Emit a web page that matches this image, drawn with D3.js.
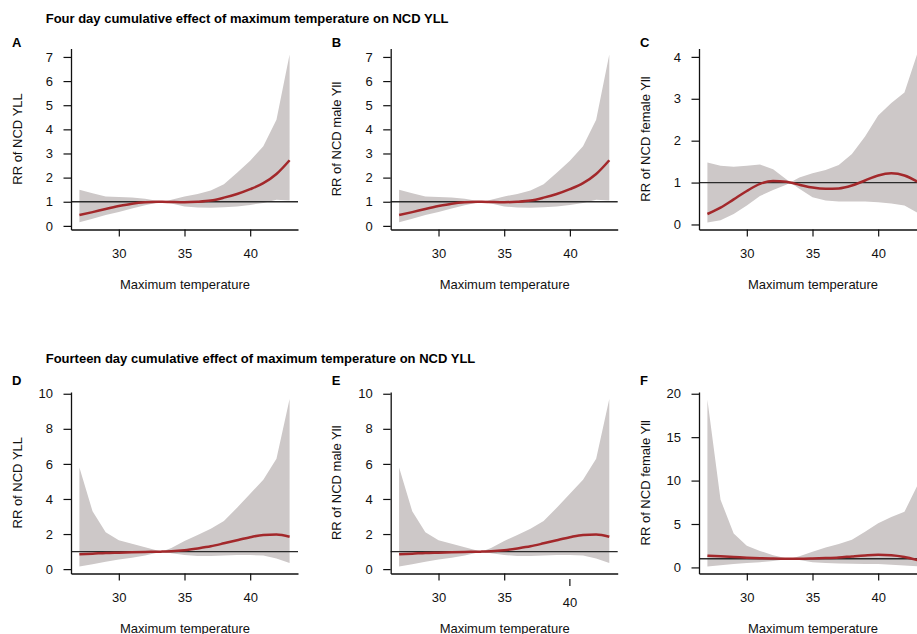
<!DOCTYPE html>
<html>
<head>
<meta charset="utf-8">
<script src="https://cdn.jsdelivr.net/npm/d3@7"></script>
<style>
  body { margin: 0; background: #fff; }
  svg { display: block; font-family: "Liberation Sans", Arial, Helvetica, sans-serif; }
</style>
</head>
<body>
<div id="chart"></div>
<script>
// Temperature grid (centred at 33.3, where RR = 1)
const temps = [27, 28, 29, 30, 31, 32, 33, 33.3, 34, 35, 36, 37, 38, 39, 40, 41, 42, 43];

// Four day cumulative, all NCD YLL
const rrA = [0.45, 0.57, 0.70, 0.82, 0.92, 0.98, 1.00, 1.00, 0.99, 0.98, 1.00, 1.05, 1.17, 1.32, 1.52, 1.77, 2.15, 2.72];
const loA = [0.15, 0.30, 0.45, 0.58, 0.72, 0.85, 0.97, 1.00, 0.93, 0.80, 0.76, 0.75, 0.77, 0.80, 0.87, 0.95, 1.08, 1.05];
const hiA = [1.50, 1.35, 1.22, 1.20, 1.18, 1.12, 1.03, 1.00, 1.08, 1.22, 1.32, 1.47, 1.72, 2.20, 2.70, 3.30, 4.40, 7.10];

// Four day cumulative, male
const rrB = [0.45, 0.57, 0.70, 0.82, 0.92, 0.98, 1.00, 1.00, 0.99, 0.98, 1.00, 1.05, 1.17, 1.32, 1.52, 1.77, 2.15, 2.72];
const loB = [0.15, 0.30, 0.45, 0.58, 0.72, 0.85, 0.97, 1.00, 0.93, 0.80, 0.76, 0.75, 0.77, 0.80, 0.87, 0.95, 1.08, 1.05];
const hiB = [1.50, 1.35, 1.22, 1.20, 1.18, 1.12, 1.03, 1.00, 1.08, 1.22, 1.32, 1.47, 1.72, 2.20, 2.70, 3.30, 4.40, 7.10];

// Four day cumulative, female
const rrC = [0.25, 0.40, 0.60, 0.80, 0.97, 1.04, 1.02, 1.00, 0.95, 0.88, 0.85, 0.86, 0.93, 1.05, 1.17, 1.22, 1.17, 1.02];
const loC = [0.05, 0.10, 0.25, 0.45, 0.68, 0.82, 0.95, 1.00, 0.85, 0.65, 0.57, 0.55, 0.55, 0.55, 0.53, 0.50, 0.45, 0.28];
const hiC = [1.48, 1.40, 1.38, 1.40, 1.43, 1.32, 1.08, 1.00, 1.12, 1.22, 1.30, 1.42, 1.68, 2.10, 2.60, 2.90, 3.15, 4.10];

// Fourteen day cumulative, all NCD YLL
const rrD = [0.85, 0.88, 0.92, 0.94, 0.96, 0.98, 0.99, 1.00, 1.02, 1.08, 1.18, 1.30, 1.47, 1.65, 1.82, 1.95, 1.97, 1.85];
const loD = [0.15, 0.28, 0.42, 0.55, 0.65, 0.78, 0.95, 1.00, 0.90, 0.80, 0.75, 0.75, 0.78, 0.80, 0.80, 0.78, 0.60, 0.35];
const hiD = [5.80, 3.30, 2.10, 1.65, 1.45, 1.25, 1.05, 1.00, 1.20, 1.60, 1.95, 2.30, 2.75, 3.50, 4.30, 5.10, 6.30, 9.70];

// Fourteen day cumulative, male
const rrE = [0.85, 0.88, 0.92, 0.94, 0.96, 0.98, 0.99, 1.00, 1.02, 1.08, 1.18, 1.30, 1.47, 1.65, 1.82, 1.95, 1.97, 1.85];
const loE = [0.15, 0.28, 0.42, 0.55, 0.65, 0.78, 0.95, 1.00, 0.90, 0.80, 0.75, 0.75, 0.78, 0.80, 0.80, 0.78, 0.60, 0.35];
const hiE = [5.80, 3.30, 2.10, 1.65, 1.45, 1.25, 1.05, 1.00, 1.20, 1.60, 1.95, 2.30, 2.75, 3.50, 4.30, 5.10, 6.30, 9.70];

// Fourteen day cumulative, female
const rrF = [1.35, 1.28, 1.20, 1.12, 1.06, 1.02, 1.00, 1.00, 1.00, 1.03, 1.08, 1.15, 1.27, 1.38, 1.45, 1.40, 1.20, 0.85];
const loF = [0.10, 0.25, 0.40, 0.50, 0.60, 0.75, 0.95, 1.00, 0.85, 0.60, 0.50, 0.45, 0.42, 0.40, 0.38, 0.32, 0.22, 0.12];
const hiF = [19.3, 7.80, 3.90, 2.50, 1.90, 1.40, 1.05, 1.00, 1.30, 1.80, 2.30, 2.70, 3.20, 4.10, 5.10, 5.80, 6.40, 9.50];

// Tick labels
const xTicks = [30, 35, 40];
const yTicks4day = [0, 1, 2, 3, 4, 5, 6, 7];
const yTicksFemale4 = [0, 1, 2, 3, 4];
const yTicks14day = [0, 2, 4, 6, 8, 10];
const yTicksFemale14 = [0, 5, 10, 15, 20];

const rowTitles = [
  "Four day cumulative effect of maximum temperature on NCD YLL",
  "Fourteen day cumulative effect of maximum temperature on NCD YLL"
];
const xLabel = "Maximum temperature";

const panels = [
  { id: "A", row: 0, col: 0, ylab: "RR of NCD YLL", rr: rrA, lo: loA, hi: hiA, yDomain: [-0.15, 7.35], yTicks: yTicks4day },
  { id: "B", row: 0, col: 1, ylab: "RR of NCD male Yll", rr: rrB, lo: loB, hi: hiB, yDomain: [-0.15, 7.35], yTicks: yTicks4day },
  { id: "C", row: 0, col: 2, ylab: "RR of NCD female Yll", rr: rrC, lo: loC, hi: hiC, yDomain: [-0.12, 4.2], yTicks: yTicksFemale4 },
  { id: "D", row: 1, col: 0, ylab: "RR of NCD YLL", rr: rrD, lo: loD, hi: hiD, yDomain: [-0.25, 10.1], yTicks: yTicks14day },
  { id: "E", row: 1, col: 1, ylab: "RR of NCD male Yll", rr: rrE, lo: loE, hi: hiE, yDomain: [-0.25, 10.1], yTicks: yTicks14day, shiftTick: 40 },
  { id: "F", row: 1, col: 2, ylab: "RR of NCD female Yll", rr: rrF, lo: loF, hi: hiF, yDomain: [-0.7, 20.2], yTicks: yTicksFemale14 }
];

// Layout
const W = 917, H = 634;
const colX = [71, 390.7, 699];
const plotW = 227;
const rows = [
  { top: 48.5, bottom: 229.5, title: 22.5, letter: 46.7 },
  { top: 392, bottom: 573.5, title: 363.3, letter: 385 }
];
const bandColor = "#cdc8c8";
const lineColor = "#a3282b";

const svg = d3.select("#chart").append("svg")
  .attr("width", W)
  .attr("height", H);

rowTitles.forEach((t, i) => {
  svg.append("text")
    .attr("x", 45.7)
    .attr("y", rows[i].title)
    .attr("font-size", 13)
    .attr("font-weight", "bold")
    .text(t);
});

panels.forEach((p) => {
  const r = rows[p.row];
  const x0 = colX[p.col];

  const x = d3.scaleLinear().domain([26.36, 43.64]).range([x0, x0 + plotW]);
  const y = d3.scaleLinear().domain(p.yDomain).range([r.bottom, r.top]);

  const g = svg.append("g");

  const pts = temps.map((t, i) => ({ t, rr: p.rr[i], lo: p.lo[i], hi: p.hi[i] }));

  // Confidence band
  g.append("path")
    .datum(pts)
    .attr("fill", bandColor)
    .attr("d", d3.area().x((d) => x(d.t)).y0((d) => y(d.lo)).y1((d) => y(d.hi)));

  // Reference line at RR = 1
  g.append("line")
    .attr("x1", x0)
    .attr("x2", x0 + plotW)
    .attr("y1", y(1))
    .attr("y2", y(1))
    .attr("stroke", "#2b2b2b")
    .attr("stroke-width", 1.3);

  // RR curve
  g.append("path")
    .datum(pts)
    .attr("fill", "none")
    .attr("stroke", lineColor)
    .attr("stroke-width", 2.5)
    .attr("d", d3.line().curve(d3.curveMonotoneX).x((d) => x(d.t)).y((d) => y(d.rr)));

  // Axes
  const yAxis = g.append("g")
    .attr("transform", `translate(${x0},0)`)
    .call(d3.axisLeft(y).tickValues(p.yTicks).tickFormat(d3.format("d"))
      .tickSize(7.5).tickSizeOuter(0).tickPadding(10.5));

  const xAxis = g.append("g")
    .attr("transform", `translate(0,${r.bottom})`)
    .call(d3.axisBottom(x).tickValues(xTicks).tickFormat(d3.format("d"))
      .tickSize(7).tickSizeOuter(0).tickPadding(12));

  [yAxis, xAxis].forEach((a) => {
    a.attr("font-family", null).attr("font-size", null);
    a.selectAll("text").attr("font-size", 13).attr("fill", "#111");
    a.selectAll("line").attr("stroke", "#111").attr("stroke-width", 1.2);
    a.select(".domain").attr("stroke", "#111").attr("stroke-width", 1.3);
  });

  // one tick in panel E sits a little lower in the original figure
  if (p.shiftTick !== undefined) {
    xAxis.selectAll(".tick")
      .filter((d) => d === p.shiftTick)
      .attr("transform", `translate(${x(p.shiftTick)},5.5)`);
  }

  // Panel letter
  g.append("text")
    .attr("x", x0 - 59)
    .attr("y", r.letter)
    .attr("font-size", 13)
    .attr("font-weight", "bold")
    .text(p.id);

  // Y label
  g.append("text")
    .attr("transform", `translate(${x0 - 49.3},${(r.top + r.bottom) / 2}) rotate(-90)`)
    .attr("text-anchor", "middle")
    .attr("font-size", 13)
    .attr("fill", "#111")
    .text(p.ylab);

  // X label
  g.append("text")
    .attr("x", x0 + plotW / 2 + 0.5)
    .attr("y", r.bottom + 59)
    .attr("text-anchor", "middle")
    .attr("font-size", 13)
    .attr("fill", "#111")
    .text(xLabel);
});
</script>
</body>
</html>
